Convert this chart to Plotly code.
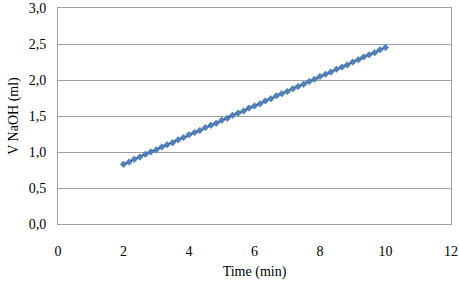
import plotly.graph_objects as go

time_min = [2.00, 2.17, 2.33, 2.50, 2.67, 2.83, 3.00, 3.17, 3.33, 3.50, 3.67, 3.83,
            4.00, 4.17, 4.33, 4.50, 4.67, 4.83, 5.00, 5.17, 5.33, 5.50, 5.67, 5.83,
            6.00, 6.17, 6.33, 6.50, 6.67, 6.83, 7.00, 7.17, 7.33, 7.50, 7.67, 7.83,
            8.00, 8.17, 8.33, 8.50, 8.67, 8.83, 9.00, 9.17, 9.33, 9.50, 9.67, 9.83, 10.00]
v_naoh = [0.83, 0.86, 0.90, 0.93, 0.97, 1.00, 1.03, 1.07, 1.10, 1.13, 1.17, 1.20,
          1.24, 1.27, 1.30, 1.34, 1.37, 1.40, 1.44, 1.47, 1.51, 1.54, 1.57, 1.61,
          1.64, 1.67, 1.71, 1.74, 1.78, 1.81, 1.84, 1.88, 1.91, 1.94, 1.98, 2.01,
          2.05, 2.08, 2.11, 2.15, 2.18, 2.21, 2.25, 2.28, 2.32, 2.35, 2.38, 2.42, 2.45]

x_ticks = [0, 2, 4, 6, 8, 10, 12]
y_ticks = [0.0, 0.5, 1.0, 1.5, 2.0, 2.5, 3.0]

font = dict(family="Liberation Serif", size=14, color="#000000")

fig = go.Figure()
fig.add_trace(go.Scatter(
    x=time_min, y=v_naoh, mode="lines+markers",
    line=dict(color="#1f3a66", width=1.5),
    marker=dict(symbol="diamond", size=5, color="#4f81bd",
                line=dict(color="#3a6aa5", width=0.5)),
    showlegend=False,
))

fig.update_layout(
    width=459, height=292,
    margin=dict(l=58, r=8, t=8, b=68, autoexpand=False),
    paper_bgcolor="white", plot_bgcolor="white",
    separators=",.",
    font=font,
    xaxis=dict(range=[0, 12], tickvals=x_ticks, showgrid=False, zeroline=False,
               showline=True, linecolor="#a0a0a0", linewidth=1, mirror=True,
               ticks="", ticklabelstandoff=14, tickfont=font, automargin=False,
               title=dict(text="Time (min)", font=font, standoff=8)),
    yaxis=dict(range=[0, 3], tickvals=y_ticks, tickformat=".1f",
               showgrid=True, gridcolor="#a0a0a0", gridwidth=1, zeroline=False,
               showline=True, linecolor="#a0a0a0", linewidth=1, mirror=True,
               ticks="", ticklabelstandoff=8, tickfont=font, automargin=False,
               title=dict(text="V NaOH (ml)", font=font, standoff=6)),
)

fig.write_html("out.html")
